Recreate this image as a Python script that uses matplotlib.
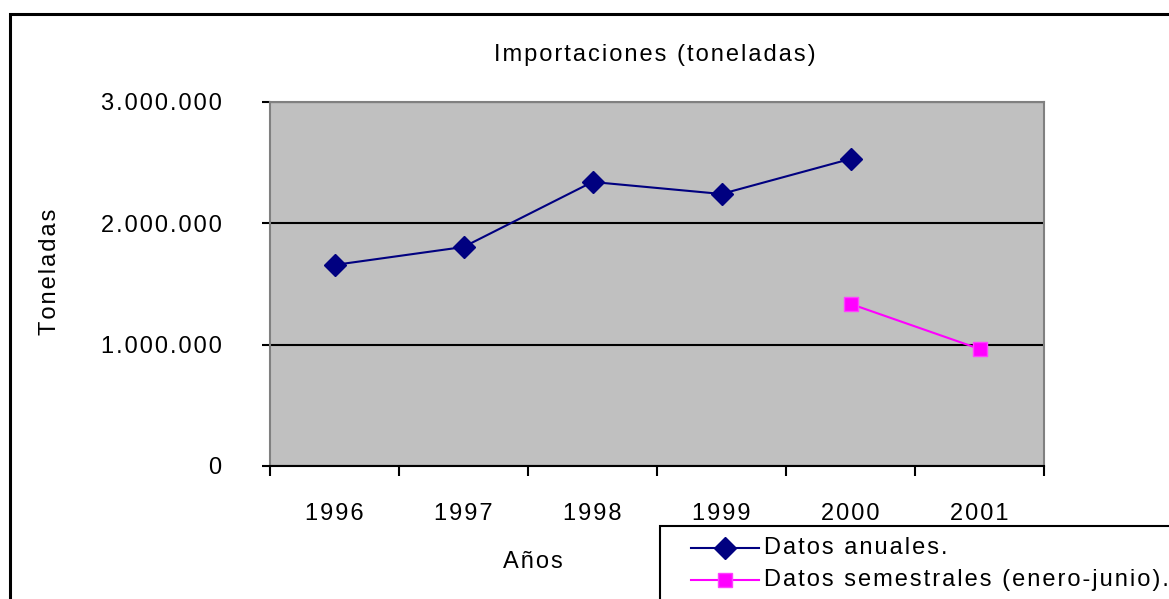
import matplotlib
matplotlib.use("Agg")
import matplotlib.pyplot as plt
from matplotlib.patches import Rectangle
from matplotlib.lines import Line2D
from matplotlib.ticker import FuncFormatter

plt.rcParams['font.family'] = ['Liberation Sans', 'DejaVu Sans']

years = ["1996", "1997", "1998", "1999", "2000", "2001"]
anual = [1657000, 1805000, 2341000, 2242000, 2531000]
semestral_years = ["2000", "2001"]
semestral = [1336000, 965000]

SP = '\u200a'
FS = 17


def spaced(s):
    return SP.join(s)


W, H = 1169, 599
fig = plt.figure(figsize=(W / 100, H / 100), dpi=100)

# outer chart frame
fig.patches.append(Rectangle((10 / W, -0.1), 1.2, 1 - 14 / H + 0.1, transform=fig.transFigure,
                             fill=False, edgecolor='black', linewidth=2.2, zorder=0))

ax = fig.add_axes([270 / W, 1 - 466 / H, (1044 - 270) / W, (466 - 102) / H])
ax.set_facecolor('#C0C0C0')

xa = [years.index(y) for y in years[:len(anual)]]
xs = [years.index(y) for y in semestral_years]

l1, = ax.plot(xa, anual, color='#000080', marker='D', markersize=11, linewidth=1.5,
              label='Datos anuales.', zorder=3)
l2, = ax.plot(xs, semestral, color='#FF00FF', marker='s', markersize=10, linewidth=1.5,
              markeredgecolor='#FF40FF', label='Datos semestrales (enero-junio).', zorder=3)

ax.set_xlim(-0.5, len(years) - 0.5)
ax.set_ylim(0, 3000000)
ax.set_yticks([0, 1000000, 2000000, 3000000])
ax.yaxis.set_major_formatter(FuncFormatter(lambda v, p: spaced('{:,.0f}'.format(v).replace(',', '.'))))
ax.grid(axis='y', color='black', linewidth=1.5)
ax.set_axisbelow(True)

ax.set_xticks(range(len(years)))
ax.set_xticklabels([spaced(y) for y in years])
ax.set_xticks([i - 0.5 for i in range(len(years) + 1)], minor=True)
ax.tick_params(axis='x', which='major', length=0, pad=27, labelsize=FS)
ax.tick_params(axis='x', which='minor', length=7, width=1.5, direction='out')
ax.tick_params(axis='y', length=6, width=1.5, direction='out', pad=29, labelsize=FS)

for s in ['left', 'right', 'top']:
    ax.spines[s].set_color('#808080')
    ax.spines[s].set_linewidth(1.5)
ax.spines['bottom'].set_color('black')
ax.spines['bottom'].set_linewidth(1.5)

fig.text(655 / W, 1 - 55 / H, spaced('Importaciones (toneladas)'), ha='center', va='center', fontsize=FS)
fig.text(50 / W, 1 - 272 / H, spaced('Toneladas'), ha='center', va='center', rotation=90, fontsize=FS)
fig.text(533 / W, 1 - 562 / H, spaced('Años'), ha='center', va='center', fontsize=FS)

# legend (drawn manually to match the original's layout, which runs off the figure)
fig.patches.append(Rectangle((660 / W, -0.1), 0.6, (1 - 526 / H) + 0.1, transform=fig.transFigure,
                             facecolor='white', edgecolor='black', linewidth=1.5, zorder=5))
for line, yc in [(l1, 548), (l2, 580)]:
    fig.add_artist(Line2D([691 / W, 759 / W], [1 - yc / H] * 2, transform=fig.transFigure,
                          color=line.get_color(), linewidth=1.5, zorder=6))
    fig.add_artist(Line2D([725 / W], [1 - yc / H], transform=fig.transFigure,
                          color=line.get_color(), marker=line.get_marker(),
                          markersize=line.get_markersize(),
                          markeredgecolor=line.get_markeredgecolor(), linestyle='none', zorder=7))
    fig.text(764 / W, 1 - yc / H, spaced(line.get_label()), ha='left', va='center',
             fontsize=FS, zorder=8)

fig.savefig('out.png', dpi=100)
